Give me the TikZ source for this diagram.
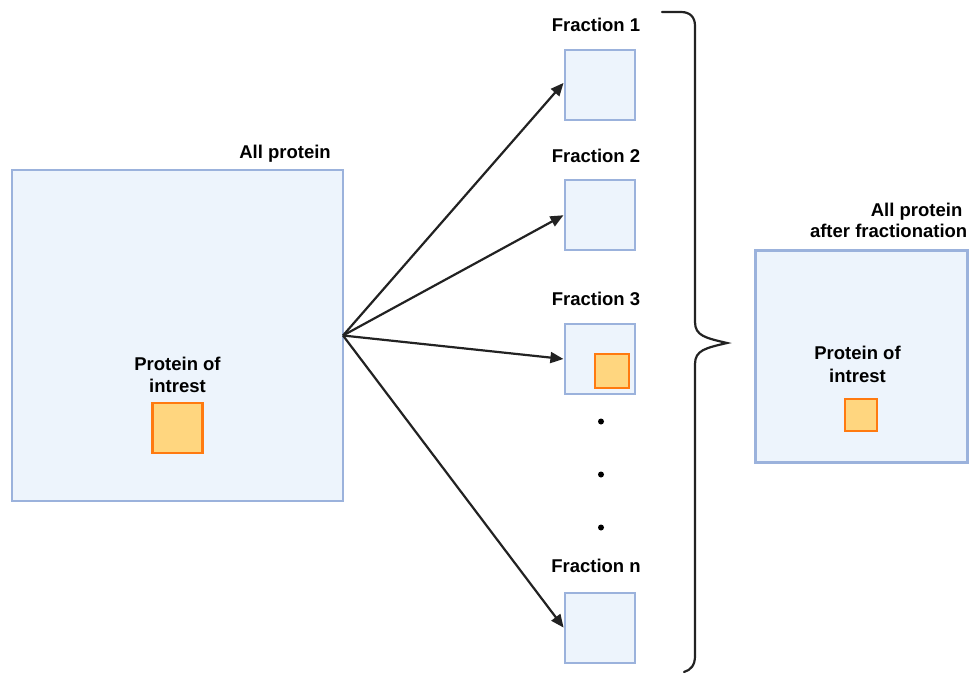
\documentclass[tikz,border=0pt]{standalone}
\usepackage{fontspec}
\setmainfont{Liberation Sans}
\usetikzlibrary{arrows.meta}
\definecolor{boxfill}{HTML}{EDF4FC}
\definecolor{boxline}{HTML}{9BB2DC}
\definecolor{poifill}{HTML}{FFD67F}
\definecolor{poiline}{HTML}{FF7A10}
\definecolor{ink}{HTML}{222222}
\tikzset{
  pool/.style={draw=boxline, fill=boxfill, line width=2.2pt, inner sep=0pt},
  poi/.style={draw=poiline, fill=poifill, line width=2.2pt, inner sep=0pt},
  lbl/.style={font=\fontsize{18.5}{22}\selectfont\bfseries, inner sep=0pt, text=black},
  split/.style={draw=ink, line width=2.2pt, -{Triangle[length=13pt,width=11pt]}, shorten >=0.5pt},
  dotmark/.style={circle, fill=black, inner sep=0pt, minimum size=6pt}
}
\begin{document}
\begin{tikzpicture}[x=1pt, y=-1pt]
\useasboundingbox (0,0) rectangle (969,673);

% starting material
\node[pool, minimum width=331pt, minimum height=331pt] (all) at (177.5,335.5) {};
\node[lbl, anchor=base east] (alllbl) at (331,158.5) {All protein};
\node[poi, minimum size=50pt] (poi) at (177.5,428) {};
\node[lbl, anchor=base] (poilbl1) at (177.5,370) {Protein of};
\node[lbl, anchor=base] (poilbl2) at (177.5,392.5) {intrest};

% fractions
\node[pool, minimum size=70pt] (f1) at (600,85) {};
\node[pool, minimum size=70pt] (f2) at (600,215) {};
\node[pool, minimum size=70pt] (f3) at (600,359) {};
\node[pool, minimum size=70pt] (fn) at (600,628) {};
\node[poi, minimum size=34pt] (f3poi) at (612,371) {};
\node[lbl, anchor=base] (f1lbl) at (596,31.7) {Fraction 1};
\node[lbl, anchor=base] (f2lbl) at (596,162) {Fraction 2};
\node[lbl, anchor=base] (f3lbl) at (596,305) {Fraction 3};
\node[lbl, anchor=base] (fnlbl) at (596,572.3) {Fraction n};
\node[dotmark] (d1) at (601,421.5) {};
\node[dotmark] (d2) at (601,474.5) {};
\node[dotmark] (d3) at (601,527.5) {};

% fractionation arrows
\coordinate (src) at (343,335.5);
\draw[split] (src) -- ([yshift=2.5pt]f1.west);
\draw[split] (src) -- (f2.west);
\draw[split] (src) -- (f3.west);
\draw[split] (src) -- (fn.west);

% brace grouping the fractions
\draw[ink, line width=2.2pt, line cap=round]
  (662,12) -- (681,12) .. controls (690,12) and (695,17) .. (695,26)
  -- (695,322) .. controls (695,336) and (706,338) .. (727,343)
  .. controls (706,348) and (695,350) .. (695,364)
  -- (695,656) .. controls (695,665) and (691,670) .. (684,672);

% pooled result
\node[pool, minimum width=212pt, minimum height=212pt] (after) at (861.5,356.5) {};
\node[lbl, anchor=base east] (afterlbl1) at (962.5,216) {All protein};
\node[lbl, anchor=base east] (afterlbl2) at (967.5,237.7) {after fractionation};
\node[poi, minimum size=32pt] (afterpoi) at (861,415) {};
\node[lbl, anchor=base] (apoilbl1) at (857.5,359.3) {Protein of};
\node[lbl, anchor=base] (apoilbl2) at (857.5,382.7) {intrest};
\end{tikzpicture}
\end{document}
